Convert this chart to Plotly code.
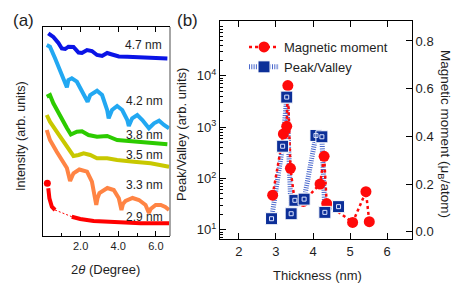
import plotly.graph_objects as go

W, H = 463, 292

# ---------------- Panel (a): XRR curves (2theta in degree, intensity arb.) ----------------
tt_47 = [0.28, 0.55, 0.82, 1.0, 1.18, 1.35, 1.62, 1.89, 2.07, 2.34, 2.6, 2.87, 3.14, 3.41, 3.67, 4.03, 4.48, 5.19, 5.9, 6.61]
I_47 = [206.7, 203, 197, 191.5, 191, 193.3, 193, 187.5, 187, 190, 189, 185, 184, 187, 185.5, 183.5, 183.3, 182.5, 181.8, 181.5]

tt_42 = [0.2, 0.37, 0.64, 0.91, 1.18, 1.27, 1.35, 1.53, 1.8, 2.16, 2.37, 2.51, 2.87, 3.14, 3.41, 3.49, 3.67, 3.94,
         4.21, 4.48, 4.56, 4.74, 5.01, 5.28, 5.63, 5.9, 6.17, 6.43, 6.7]
I_42 = [195, 193.3, 181.7, 170, 156.7, 152.7, 160, 161.7, 158.3, 146.7, 138.3, 145, 149.3, 145, 130, 121.7, 130, 134,
        130, 120, 114, 121.7, 125, 120, 111.7, 116.7, 119.3, 115, 111.7]

tt_38 = [0.2, 0.37, 0.55, 0.91, 1.27, 1.48, 1.8, 2.07, 2.42, 2.87, 3.41, 3.94, 4.83, 5.72, 6.61]
I_38 = [143.3, 145, 136.7, 123.3, 112, 105.5, 108.3, 108.8, 105, 103.3, 104, 100, 98.3, 96.7, 95.7]

tt_35 = [0.2, 0.37, 0.73, 1.09, 1.35, 1.62, 1.89, 2.16, 2.51, 2.87, 3.41, 3.94, 4.83, 5.72, 6.7]
I_35 = [125, 118.3, 108.3, 98.3, 90, 84, 85, 86.7, 85, 81.7, 81.7, 80, 78.3, 76.7, 73.3]

tt_33 = [0.2, 0.37, 0.73, 1.09, 1.27, 1.44, 1.62, 1.93, 2.34, 2.6, 2.75, 2.83, 2.9, 3.0, 3.42, 3.76, 4.03, 4.12,
         4.17, 4.25, 4.39, 4.76, 5.1, 5.45, 5.58, 5.63, 5.72, 5.99, 6.26, 6.5, 6.7]
I_33 = [110, 100, 88.3, 78.3, 72, 59, 66.7, 70.5, 68.3, 58.3, 45, 35, 42, 47, 52, 50, 41.7, 34,
        30, 36, 39, 42, 40, 35, 29, 27, 31, 35, 35, 33, 30]

tt_29a = [0.23, 0.28, 0.34, 0.47, 0.64]
I_29a = [56.7, 51.7, 41.7, 33.3, 30]
tt_29b = [1.53, 1.98, 2.69, 3.41, 4.29, 5.19, 6.7]
I_29b = [23.3, 21, 19, 18.3, 17.7, 16.7, 16.7]

curve_labels = ["4.7 nm", "4.2 nm", "3.8 nm", "3.5 nm", "3.3 nm", "2.9 nm"]
label_pos_px = [(143, 45), (144, 101), (144, 135), (144, 155), (144, 185), (144, 217)]

# ---------------- Panel (b) ----------------
thick_mm = [2.91, 3.2, 3.29, 3.32, 3.39, 3.5, 3.74, 4.19, 4.30, 4.37, 5.07, 5.43, 5.52]
moment = [0.153, 0.41, 0.442, 0.613, 0.266, 0.135, 0.127, 0.2, 0.316, 0.118, 0.039, 0.168, 0.042]

thick_pv = [2.88, 3.18, 3.29, 3.41, 3.51, 3.76, 4.08, 4.24, 4.32, 4.69]
peak_valley = [16.4, 425, 3860, 20.5, 37.5, 39.5, 690, 650, 21.8, 28.2]

x_ticks_a = [2, 4, 6]
x_ticktext_a = ["2.0", "4.0", "6.0"]
x_ticks_b = [2, 3, 4, 5, 6]
y_ticks_log = [10, 100, 1000, 10000]
y_ticktext_log = ["10<sup>1</sup>", "10<sup>2</sup>", "10<sup>3</sup>", "10<sup>4</sup>"]
y_ticks_mm = [0.0, 0.2, 0.4, 0.6, 0.8]

FONT = "Liberation Sans, Arial, sans-serif"
TXT = "#1e1e1e"

fig = go.Figure()

curves = [
    (tt_47, I_47, "#0a14e6"),
    (tt_42, I_42, "#22a8f2"),
    (tt_38, I_38, "#2ccb00"),
    (tt_35, I_35, "#c8c800"),
    (tt_33, I_33, "#ff8444"),
]
for xs, ys, c in curves:
    fig.add_trace(go.Scatter(x=xs, y=ys, mode="lines", line=dict(color=c, width=4),
                             showlegend=False, xaxis="x", yaxis="y"))
# 2.9 nm: thin dotted bridge across the gap
fig.add_trace(go.Scatter(x=[tt_29a[-1], tt_29b[0]], y=[I_29a[-1], I_29b[0]], mode="lines",
                         line=dict(color="#ff0000", width=1, dash="2px,2px"),
                         showlegend=False, xaxis="x", yaxis="y"))
fig.add_trace(go.Scatter(x=tt_29a[1:], y=I_29a[1:], mode="lines", line=dict(color="#ff0000", width=4),
                         showlegend=False, xaxis="x", yaxis="y"))
fig.add_trace(go.Scatter(x=tt_29b, y=I_29b, mode="lines", line=dict(color="#ff0000", width=4),
                         showlegend=False, xaxis="x", yaxis="y"))
fig.add_trace(go.Scatter(x=tt_29a[:1], y=I_29a[:1], mode="markers", marker=dict(color="#ff0000", size=7),
                         showlegend=False, xaxis="x", yaxis="y"))

BLUE_SQ = "#0c2f98"
BLUE_LN = "#4a68cc"
RED = "#ff0a0a"

# Peak/Valley lines (bottom layer)
fig.add_trace(go.Scatter(x=thick_pv, y=peak_valley, mode="lines+markers", name="Peak/Valley",
                         line=dict(color=BLUE_LN, width=5, dash="1px,1.3px"),
                         marker=dict(symbol="square", size=12, color=BLUE_SQ, line=dict(color="white", width=1)),
                         legendrank=2, xaxis="x2", yaxis="y3"))
# Magnetic moment
fig.add_trace(go.Scatter(x=thick_mm, y=moment, mode="lines+markers", name="Magnetic moment",
                         line=dict(color=RED, width=2.5, dash="3px,3px"),
                         marker=dict(symbol="circle", size=11, color=RED),
                         legendrank=1, xaxis="x2", yaxis="y4"))
# Peak/Valley markers on top
fig.add_trace(go.Scatter(x=thick_pv, y=peak_valley, mode="markers", showlegend=False,
                         marker=dict(symbol="square", size=12, color=BLUE_SQ, line=dict(color="white", width=1)),
                         xaxis="x2", yaxis="y5"))
fig.add_trace(go.Scatter(x=thick_pv, y=peak_valley, mode="markers", showlegend=False,
                         marker=dict(symbol="square-open", size=4, color="#dde4ff", line=dict(width=1)),
                         xaxis="x2", yaxis="y5"))

dom_xa = [43 / W, 170 / W]
dom_ya = [1 - 236 / H, 1 - 27 / H]
dom_xb = [220 / W, 412 / W]
dom_yb = [1 - 239 / H, 1 - 21 / H]

minor_log = [v * m for m in (1, 10, 100, 1000, 10000) for v in range(2, 10)]
log_rng = [0.819, 5.071]

fig.update_layout(
    width=W, height=H,
    margin=dict(l=0, r=0, t=0, b=0),
    paper_bgcolor="white", plot_bgcolor="white",
    font=dict(family=FONT, color=TXT, size=13),
    xaxis=dict(domain=dom_xa, anchor="y", range=[0, 6.75], tickvals=x_ticks_a, ticktext=x_ticktext_a,
               ticks="inside", ticklen=5, tickcolor="black", showline=True, linecolor="black", linewidth=1,
               mirror="ticks", showgrid=False, zeroline=False, tickfont=dict(size=11),
               minor=dict(tickvals=[1, 3, 5], ticks="inside", ticklen=3, tickcolor="black")),
    yaxis=dict(domain=dom_ya, anchor="x", range=[4, 213], showticklabels=False, ticks="",
               showline=True, linecolor="black", linewidth=1, showgrid=False, zeroline=False),
    xaxis2=dict(domain=dom_xb, anchor="y3", range=[1.488, 6.674], tickvals=x_ticks_b,
                ticks="inside", ticklen=6, tickcolor="black", showline=True, linecolor="black", linewidth=1,
                mirror="ticks", showgrid=False, zeroline=False, tickfont=dict(size=13)),
    yaxis3=dict(domain=dom_yb, anchor="x2", type="log", range=log_rng, tickvals=y_ticks_log,
                ticktext=y_ticktext_log, ticks="inside", ticklen=6, tickcolor="black",
                showline=True, linecolor="black", linewidth=1, showgrid=False, zeroline=False,
                tickfont=dict(size=13),
                minor=dict(tickvals=minor_log, ticks="inside", ticklen=3, tickcolor="black")),
    yaxis4=dict(overlaying="y3", anchor="x2", side="right", range=[-0.0306, 0.8838], tickvals=y_ticks_mm,
                tickformat=".1f", ticks="inside", ticklen=6, tickcolor="black", showline=True,
                linecolor="black", linewidth=1, showgrid=False, zeroline=False, tickfont=dict(size=13)),
    yaxis5=dict(overlaying="y3", anchor="x2", type="log", range=log_rng, visible=False),
    legend=dict(x=244 / W, y=1 - 32 / H, xanchor="left", yanchor="top", bgcolor="rgba(0,0,0,0)",
                font=dict(size=13), itemwidth=30, tracegroupgap=0),
    showlegend=True,
)

# right border of panel (a) in grey
fig.add_shape(type="line", xref="x domain", yref="y domain", x0=1, x1=1, y0=0, y1=1,
              line=dict(color="#888888", width=1.5))


def ann(text, px, py, size=13, angle=0):
    fig.add_annotation(text=text, x=px / W, y=1 - py / H, xref="paper", yref="paper",
                       showarrow=False, textangle=angle, font=dict(size=size, family=FONT, color=TXT),
                       xanchor="center", yanchor="middle")


for t, (px, py) in zip(curve_labels, label_pos_px):
    ann(t, px, py, size=12)

ann("(a)", 23, 21, size=17)
ann("(b)", 187, 21, size=17)
ann("Intensity (arb. units)", 21, 136, size=12.5, angle=-90)
ann("2<i>θ</i> (Degree)", 105, 269, size=13)
ann("Peak/Valley (arb. units)", 181, 135, size=13, angle=-90)
ann("Magnetic moment (μ<sub>B</sub>/atom)", 445, 134, size=13.5, angle=90)
ann("Thickness (nm)", 317, 275, size=13)

fig.write_html("out.html", config={"displayModeBar": False},
               post_script="document.body.style.margin='0';")
